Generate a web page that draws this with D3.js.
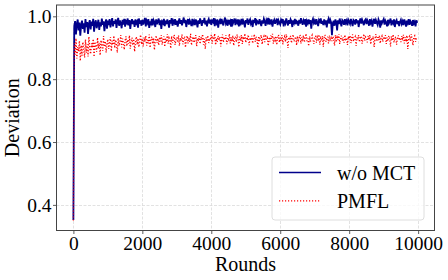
<!DOCTYPE html>
<html><head><meta charset="utf-8">
<script src="https://cdn.jsdelivr.net/npm/d3@7"></script>
<style>html,body{margin:0;padding:0;background:#fff;}svg{display:block;}</style>
</head><body>
<script>
const roundStep = 25;
const xTicks = [0, 2000, 4000, 6000, 8000, 10000];
const yTicks = [0.4, 0.6, 0.8, 1.0];
const seriesNames = ["w/o MCT", "PMFL"];
const woMCT = [
0.352,0.968,0.985,0.942,0.975,0.990,0.955,0.980,0.938,0.972,0.986,0.960,0.978,0.948,0.991,0.966,0.982,0.944,0.976,0.988,
0.958,0.983,0.970,0.992,0.951,0.979,0.987,0.962,0.975,0.989,0.957,0.981,0.968,0.993,0.973,0.984,0.953,0.978,0.990,0.961,
0.986,0.972,0.991,0.965,0.980,0.994,0.968,0.985,0.976,0.990,0.963,0.983,0.995,0.970,0.987,0.978,0.962,0.989,0.974,0.992,
0.967,0.984,0.979,0.993,0.971,0.988,0.960,0.982,0.991,0.975,0.986,0.966,0.990,0.978,0.984,0.964,0.993,0.976,0.987,0.970,
0.989,0.974,0.983,0.995,0.968,0.986,0.979,0.991,0.963,0.984,0.977,0.992,0.971,0.988,0.982,0.966,0.990,0.975,0.985,0.993,
0.972,0.987,0.960,0.983,0.978,0.992,0.969,0.986,0.975,0.990,0.981,0.964,0.988,0.977,0.994,0.970,0.985,0.979,0.991,0.973,
0.986,0.967,0.982,0.993,0.976,0.988,0.971,0.984,0.996,0.978,0.989,0.966,0.983,0.991,0.974,0.987,0.980,0.969,0.992,0.977,
0.985,0.972,0.990,0.981,0.965,0.987,0.976,0.993,0.983,0.970,0.988,0.979,0.995,0.974,0.986,0.968,0.984,0.991,0.977,0.989,
0.973,0.986,0.982,0.994,0.969,0.985,0.978,0.990,0.964,0.983,0.988,0.975,0.992,0.980,0.971,0.987,0.996,0.977,0.984,0.970,
0.989,0.979,0.985,0.967,0.991,0.976,0.984,0.993,0.972,0.986,0.980,0.990,0.968,0.983,0.977,0.992,0.974,0.987,0.981,0.965,
0.988,0.978,0.993,0.973,0.985,0.990,0.976,0.982,0.966,0.989,0.979,0.994,0.971,0.986,0.983,0.975,0.991,0.980,0.969,0.987,
0.977,0.992,0.984,0.970,0.988,0.981,0.995,0.974,0.986,0.979,0.990,0.967,0.983,0.989,0.976,0.985,0.993,0.972,0.987,0.980,
0.974,0.989,0.983,0.991,0.968,0.986,0.978,0.993,0.981,0.971,0.988,0.976,0.990,0.984,0.966,0.987,0.979,0.992,0.975,0.985,
0.982,0.970,0.989,0.977,0.994,0.983,0.973,0.987,0.980,0.991,0.967,0.985,0.978,0.990,0.975,0.988,0.961,0.984,0.992,0.979,
0.986,0.974,0.991,0.980,0.969,0.988,0.983,0.993,0.976,0.985,0.972,0.990,0.979,0.987,0.965,0.984,0.992,0.977,0.989,0.981,
0.940,0.978,0.986,0.970,0.990,0.982,0.955,0.987,0.975,0.993,0.980,0.968,0.988,0.984,0.973,0.991,0.979,0.986,0.971,0.989,
0.983,0.976,0.992,0.980,0.969,0.988,0.985,0.974,0.991,0.978,0.987,0.966,0.984,0.993,0.977,0.989,0.981,0.972,0.986,0.990,
0.975,0.988,0.982,0.970,0.991,0.979,0.986,0.967,0.984,0.992,0.976,0.988,0.980,0.973,0.990,0.983,0.964,0.987,0.978,0.985,
0.991,0.974,0.986,0.980,0.968,0.989,0.977,0.984,0.993,0.971,0.987,0.979,0.990,0.966,0.983,0.988,0.975,0.985,0.969,0.982,
0.989,0.976,0.984,0.972,0.990,0.981,0.967,0.986,0.978,0.991,0.973,0.985,0.980,0.970,0.988,0.977,0.983,0.968,0.987,0.979
];
const pmfl = [
0.350,0.915,0.878,0.930,0.866,0.902,0.889,0.922,0.858,0.908,0.875,0.918,0.893,0.869,0.926,0.884,0.911,0.872,0.935,0.897,
0.880,0.914,0.900,0.928,0.871,0.919,0.905,0.887,0.932,0.898,0.916,0.876,0.924,0.907,0.890,0.937,0.903,0.921,0.885,0.913,
0.927,0.896,0.917,0.934,0.889,0.922,0.909,0.938,0.899,0.925,0.912,0.884,0.931,0.906,0.920,0.940,0.901,0.929,0.915,0.894,
0.923,0.936,0.905,0.926,0.913,0.939,0.897,0.921,0.932,0.908,0.928,0.888,0.918,0.935,0.910,0.930,0.902,0.924,0.941,0.911,
0.929,0.904,0.933,0.919,0.938,0.907,0.925,0.914,0.942,0.900,0.927,0.935,0.912,0.931,0.893,0.922,0.939,0.916,0.930,0.908,
0.934,0.920,0.940,0.910,0.927,0.936,0.903,0.929,0.918,0.943,0.913,0.931,0.924,0.898,0.937,0.915,0.928,0.941,0.909,0.926,
0.933,0.917,0.939,0.906,0.930,0.922,0.942,0.911,0.928,0.936,0.901,0.925,0.938,0.914,0.932,0.919,0.944,0.908,0.927,0.935,
0.916,0.931,0.940,0.905,0.929,0.921,0.937,0.912,0.934,0.926,0.943,0.910,0.928,0.896,0.933,0.920,0.939,0.915,0.930,0.924,
0.941,0.913,0.932,0.927,0.945,0.909,0.930,0.919,0.938,0.923,0.935,0.904,0.929,0.942,0.917,0.934,0.925,0.940,0.911,0.931,
0.926,0.944,0.914,0.933,0.920,0.939,0.907,0.930,0.936,0.918,0.942,0.928,0.902,0.935,0.922,0.940,0.912,0.931,0.927,0.945,
0.916,0.934,0.929,0.941,0.908,0.932,0.923,0.938,0.914,0.930,0.943,0.919,0.935,0.926,0.900,0.937,0.921,0.933,0.940,0.911,
0.929,0.936,0.918,0.942,0.925,0.931,0.906,0.934,0.920,0.939,0.928,0.944,0.913,0.932,0.924,0.937,0.909,0.930,0.941,0.917,
0.933,0.922,0.940,0.911,0.930,0.936,0.919,0.943,0.927,0.899,0.934,0.924,0.938,0.915,0.931,0.942,0.920,0.928,0.935,0.908,
0.937,0.923,0.930,0.941,0.913,0.934,0.926,0.939,0.917,0.932,0.945,0.921,0.929,0.905,0.936,0.918,0.933,0.940,0.925,0.912,
0.931,0.938,0.916,0.934,0.927,0.942,0.910,0.930,0.923,0.937,0.903,0.933,0.941,0.919,0.928,0.935,0.914,0.939,0.926,0.932,
0.921,0.936,0.929,0.907,0.940,0.918,0.933,0.925,0.943,0.912,0.930,0.938,0.922,0.934,0.916,0.941,0.927,0.931,0.909,0.936,
0.924,0.939,0.915,0.932,0.942,0.920,0.929,0.935,0.906,0.933,0.926,0.940,0.918,0.931,0.937,0.913,0.928,0.944,0.922,0.934,
0.930,0.917,0.938,0.925,0.941,0.911,0.932,0.927,0.936,0.902,0.929,0.943,0.920,0.934,0.924,0.939,0.914,0.931,0.937,0.919,
0.935,0.926,0.940,0.912,0.933,0.921,0.938,0.929,0.904,0.936,0.923,0.942,0.917,0.930,0.935,0.910,0.928,0.939,0.924,0.932,
0.918,0.937,0.929,0.941,0.914,0.933,0.925,0.939,0.896,0.931,0.936,0.921,0.943,0.927,0.908,0.934,0.938,0.919,0.930,0.926
];

const W = 448, H = 280;
const L = 56.5, R = 434.5, T = 5, B = 230.5;
const font = "'Liberation Serif','Times New Roman',serif";
const svg = d3.select("body").append("svg").attr("width", W).attr("height", H);

const x = d3.scaleLinear().domain([-490, 10475]).range([L, R]);
const y = d3.scaleLinear().domain([0.3185, 1.036]).range([B, T]);

// grid
const g = svg.append("g");
g.selectAll(".gx").data(xTicks).join("line")
  .attr("x1", d => Math.round(x(d)) + 0.5).attr("x2", d => Math.round(x(d)) + 0.5)
  .attr("y1", T).attr("y2", B)
  .attr("stroke", "#dadada").attr("stroke-width", 0.8).attr("stroke-dasharray", "3,1.5");
g.selectAll(".gy").data(yTicks).join("line")
  .attr("y1", d => Math.round(y(d)) + 0.5).attr("y2", d => Math.round(y(d)) + 0.5)
  .attr("x1", L).attr("x2", R)
  .attr("stroke", "#dadada").attr("stroke-width", 0.8).attr("stroke-dasharray", "3,1.5");

svg.append("clipPath").attr("id", "clip").append("rect")
  .attr("x", L).attr("y", T).attr("width", R - L).attr("height", B - T);

const line = d3.line().x((d, i) => x(i * roundStep)).y(d => y(d));
const plot = svg.append("g").attr("clip-path", "url(#clip)");
plot.append("path").datum(woMCT).attr("d", line)
  .attr("fill", "none").attr("stroke", "#00008b").attr("stroke-width", 1.8);
plot.append("path").datum(pmfl).attr("d", line)
  .attr("fill", "none").attr("stroke", "#ff0000").attr("stroke-width", 1.3)
  .attr("stroke-dasharray", "1.2,1.8");

// axes
const xAxis = svg.append("g").attr("transform", `translate(0,${B})`)
  .call(d3.axisBottom(x).tickValues(xTicks).tickFormat(d3.format("d")).tickSize(3.5).tickSizeOuter(0));
const yAxis = svg.append("g").attr("transform", `translate(${L},0)`)
  .call(d3.axisLeft(y).tickValues(yTicks).tickFormat(d3.format(".1f")).tickSize(3.5).tickSizeOuter(0));
[xAxis, yAxis].forEach(a => {
  a.attr("font-family", null).style("font-family", font);
  a.select(".domain").remove();
  a.selectAll(".tick line").attr("stroke", "#333").attr("stroke-width", 0.8);
  a.selectAll(".tick text").style("font-family", font).style("font-size", "19.5px").attr("fill", "#000");
});
xAxis.selectAll(".tick text").attr("dy", "0.71em").attr("y", 6);
yAxis.selectAll(".tick text").attr("x", -5).attr("dy", "0.33em");

// spines
svg.append("rect").attr("x", L).attr("y", T).attr("width", R - L).attr("height", B - T)
  .attr("fill", "none").attr("stroke", "#444").attr("stroke-width", 1);

// labels
svg.append("text").attr("x", (L + R) / 2).attr("y", 271).attr("text-anchor", "middle")
  .style("font-family", font).style("font-size", "20px").text("Rounds");
svg.append("text").attr("transform", `translate(19,${(T + B) / 2}) rotate(-90)`)
  .attr("text-anchor", "middle").style("font-family", font).style("font-size", "20px").text("Deviation");

// legend
const lg = svg.append("g");
lg.append("rect").attr("x", 272).attr("y", 157).attr("width", 152).attr("height", 63)
  .attr("rx", 3).attr("fill", "#fff").attr("fill-opacity", 0.8)
  .attr("stroke", "#d6d6d6").attr("stroke-width", 0.8);
const colors = ["#00008b", "#ff0000"];
const dashes = [null, "1.2,1.8"];
seriesNames.forEach((name, i) => {
  const yy = 172.5 + i * 28.3;
  lg.append("line").attr("x1", 279).attr("x2", 321).attr("y1", yy).attr("y2", yy)
    .attr("stroke", colors[i]).attr("stroke-width", i ? 1.2 : 1.5)
    .attr("stroke-dasharray", dashes[i]);
  lg.append("text").attr("x", 337).attr("y", yy + 7).style("font-family", font)
    .style("font-size", "20px").text(name);
});
</script>
</body></html>
